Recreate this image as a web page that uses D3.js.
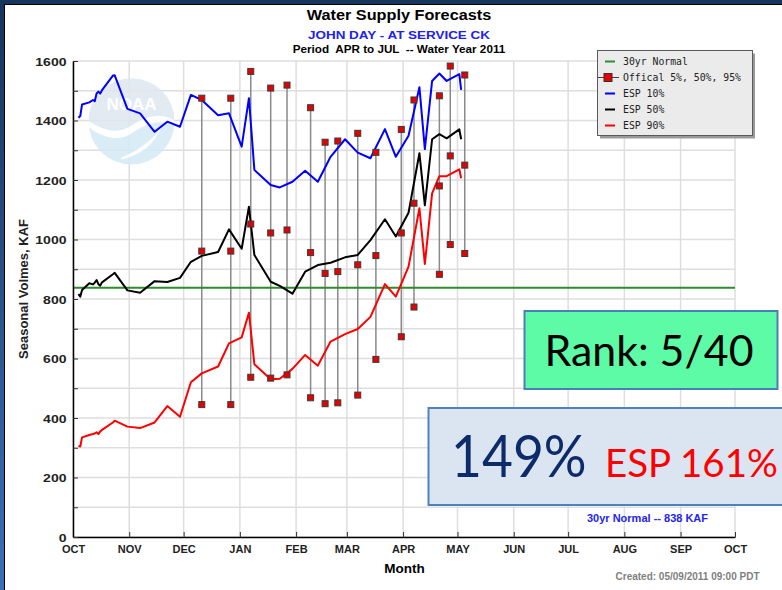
<!DOCTYPE html>
<html><head><meta charset="utf-8">
<script src="https://cdn.jsdelivr.net/npm/d3@7"></script>
<style>html,body{margin:0;padding:0;background:#fff;overflow:hidden}</style>
</head><body>
<svg id="chart" width="782" height="590"></svg>
<script>
// ---- data -------------------------------------------------------------
const espDates = ["2010-10-04","2010-10-05","2010-10-06","2010-10-10","2010-10-12","2010-10-13","2010-10-14","2010-10-15","2010-10-16","2010-10-17",
  "2010-10-23","2010-10-24","2010-10-31","2010-11-07","2010-11-15","2010-11-22","2010-11-29","2010-12-05","2010-12-11","2010-12-20","2010-12-26",
  "2011-01-02","2011-01-06","2011-01-09","2011-01-18","2011-01-23","2011-01-30","2011-02-06","2011-02-13","2011-02-20","2011-02-28",
  "2011-03-07","2011-03-14","2011-03-22","2011-03-28","2011-04-04","2011-04-10","2011-04-13","2011-04-17","2011-04-21","2011-04-25",
  "2011-05-02","2011-05-03"];
const esp10 = [1409,1415,1454,1461,1469,1465,1491,1497,1491,1502,1551,1552,1439,1424,1362,1396,1379,1486,1469,1418,1424,
  1312,1475,1234,1183,1175,1194,1231,1194,1278,1337,1292,1273,1371,1278,1349,1512,1304,1533,1558,1533,1556,1503];
const esp50 = [817,808,830,853,849,855,864,850,845,856,883,888,829,821,860,857,871,925,945,958,1034,
  969,1110,948,858,844,818,892,914,922,940,948,998,1068,1010,1090,1290,1115,1337,1354,1340,1370,1337];
const esp90 = [306,304,335,343,346,348,352,346,355,360,385,391,371,366,385,440,404,520,550,573,651,
  671,754,581,530,532,565,612,576,657,682,699,740,850,808,909,1105,918,1155,1213,1213,1236,1206];

const officialDates = ["2010-12-11","2010-12-27","2011-01-07","2011-01-18","2011-01-27","2011-02-09","2011-02-17","2011-02-24",
  "2011-03-07","2011-03-17","2011-03-31","2011-04-07","2011-04-21","2011-04-27","2011-05-05"];
const official95 = [445,445,537,534,545,468,448,451,477,597,673,773,883,983,953];
const official50 = [961,961,1052,1022,1032,956,886,892,915,946,1022,1122,1180,1281,1250];
const official05 = [1475,1475,1565,1509,1519,1443,1327,1331,1357,1293,1370,1469,1483,1583,1553];

const normal30yr = 838;
const monthLabels = ["OCT","NOV","DEC","JAN","FEB","MAR","APR","MAY","JUN","JUL","AUG","SEP","OCT"];
const yTickValues = d3.range(0, 1601, 100);
const legendLabels = ["30yr Normal","Offical 5%, 50%, 95%","ESP 10%","ESP 50%","ESP 90%"];

// ---- setup ------------------------------------------------------------
const svg = d3.select("#chart");
const parse = d3.utcParse("%Y-%m-%d");
const SANS = "'Liberation Sans', Arial, sans-serif";
const x = d3.scaleUtc().domain([parse("2010-10-01"), parse("2011-10-01")]).range([73, 735]);
const y = d3.scaleLinear().domain([0, 1600]).range([537, 61]);

const COLORS = { normal: "#2e8b2e", esp10: "#0000ff", esp50: "#000000", esp90: "#ff0000", marker: "#e60000" };

// text helper with horizontal stretch
function label(g, px, py, str, o) {
  return g.append("text")
    .attr("transform", `translate(${px},${py}) scale(${o.sx || 1},1)`)
    .attr("text-anchor", o.anchor || "middle")
    .attr("font-family", o.family || SANS)
    .attr("font-weight", o.weight || "bold")
    .attr("font-size", o.size)
    .attr("fill", o.fill || "#000")
    .text(str);
}

svg.append("rect").attr("width", 782).attr("height", 590).attr("fill", "#fff");

// slide frame
const defs = svg.append("defs");
const grad = defs.append("linearGradient").attr("id", "frameGrad").attr("x1", 0).attr("y1", 0).attr("x2", 0).attr("y2", 1);
grad.append("stop").attr("offset", "0").attr("stop-color", "#17345c");
grad.append("stop").attr("offset", "1").attr("stop-color", "#3b70b6");
svg.append("rect").attr("x", 0).attr("y", 0).attr("width", 4).attr("height", 590).attr("fill", "url(#frameGrad)");
svg.append("rect").attr("x", 0).attr("y", 0).attr("width", 782).attr("height", 4).attr("fill", "#17365d");
svg.append("line").attr("x1", 4.5).attr("x2", 4.5).attr("y1", 4).attr("y2", 590).attr("stroke", "#000").attr("stroke-width", 1);
svg.append("line").attr("x1", 4).attr("x2", 782).attr("y1", 4.5).attr("y2", 4.5).attr("stroke", "#000").attr("stroke-width", 1);

// ---- grid -------------------------------------------------------------
const monthTicks = x.ticks(d3.utcMonth.every(1));
const grid = svg.append("g").attr("stroke", "#dedede").attr("stroke-width", 1.5);
grid.selectAll(".gy").data(yTickValues).join("line")
  .attr("x1", x.range()[0]).attr("x2", x.range()[1])
  .attr("y1", d => y(d)).attr("y2", d => y(d));
grid.selectAll(".gx").data(monthTicks).join("line")
  .attr("x1", d => x(d)).attr("x2", d => x(d))
  .attr("y1", y.range()[1]).attr("y2", y.range()[0]);

// ---- faded agency emblem ---------------------------------------------
const logo = svg.append("g").attr("transform", "translate(131.5,121.5)").attr("opacity", 0.85);
defs.append("clipPath").attr("id", "logoClip").append("circle").attr("r", 43);
logo.append("circle").attr("r", 43).attr("fill", "#d4ebf6");
const lc = logo.append("g").attr("clip-path", "url(#logoClip)");
lc.append("path").attr("d", "M-45,-45 H45 V-2 C30,-12 15,-8 0,2 C-15,12 -30,6 -45,-4 Z").attr("fill", "#e0e7ef");
lc.append("path").attr("d", "M-45,-2 C-30,8 -15,14 0,4 C15,-6 30,-10 45,0 L45,6 C30,-4 15,2 0,12 C-15,22 -32,14 -45,4 Z").attr("fill", "#ffffff");
lc.append("path").attr("d", "M-10,36 C5,30 20,20 30,6 C22,24 8,34 -10,38 Z").attr("fill", "#ffffff");
logo.append("text").attr("y", -12).attr("text-anchor", "middle").attr("font-family", SANS)
  .attr("font-weight", "bold").attr("font-size", 17).attr("fill", "#fff").text("NOAA");

// ---- official forecast ranges ----------------------------------------
const official = officialDates.map((d, i) => ({ date: parse(d), lo: official95[i], mid: official50[i], hi: official05[i] }));
svg.append("g").selectAll("line").data(official).join("line")
  .attr("x1", d => x(d.date)).attr("x2", d => x(d.date))
  .attr("y1", d => y(d.hi)).attr("y2", d => y(d.lo))
  .attr("stroke", "#8a8a8a").attr("stroke-width", 1.5);

// 30-year normal
svg.append("line").attr("x1", x.range()[0]).attr("x2", x.range()[1])
  .attr("y1", y(normal30yr)).attr("y2", y(normal30yr))
  .attr("stroke", COLORS.normal).attr("stroke-width", 2);

// ---- ESP traces -------------------------------------------------------
const espSeries = [
  { key: "esp10", values: esp10 },
  { key: "esp50", values: esp50 },
  { key: "esp90", values: esp90 }
];
const line = d3.line().x(d => x(d.date)).y(d => y(d.v));
espSeries.forEach(s => {
  const pts = espDates.map((d, i) => ({ date: parse(d), v: s.values[i] }));
  svg.append("path").datum(pts).attr("d", line)
    .attr("fill", "none").attr("stroke", COLORS[s.key]).attr("stroke-width", 2)
    .attr("stroke-linejoin", "round");
});

// forecast markers
const markerPts = official.flatMap(d => [d.lo, d.mid, d.hi].map(v => ({ date: d.date, v })));
svg.append("g").selectAll("rect").data(markerPts).join("rect")
  .attr("x", d => x(d.date) - 3).attr("y", d => y(d.v) - 3)
  .attr("width", 6).attr("height", 6)
  .attr("fill", COLORS.marker).attr("stroke", "#3a3a3a").attr("stroke-width", 1);

// ---- axes ------------------------------------------------------------
const xAxis = svg.append("g").attr("transform", `translate(0,${y(0)})`)
  .call(d3.axisBottom(x).ticks(d3.utcMonth.every(1)).tickSize(-5).tickSizeOuter(0).tickPadding(8.5)
    .tickFormat((d, i) => monthLabels[i]));
xAxis.select(".domain").attr("stroke", "#000").attr("stroke-width", 1.5);
xAxis.selectAll(".tick line").attr("stroke", "#333");
xAxis.selectAll("text").attr("font-family", SANS).attr("font-weight", "bold").attr("font-size", 11).attr("fill", "#222");

const yAxis = svg.append("g").attr("transform", `translate(${x.range()[0]},0)`)
  .call(d3.axisLeft(y).tickValues(yTickValues).tickSize(-5).tickSizeOuter(0)
    .tickFormat(v => v % 200 === 0 ? v : ""));
yAxis.select(".domain").attr("stroke", "#000").attr("stroke-width", 1.5);
yAxis.selectAll(".tick line").attr("stroke", "#333");
yAxis.selectAll("text").attr("x", null).attr("dy", "0.36em")
  .attr("transform", "translate(-6.5,0) scale(1.22,1)")
  .attr("font-family", SANS).attr("font-weight", "bold").attr("font-size", 11.5).attr("fill", "#222");

// ---- titles ----------------------------------------------------------
label(svg, 399, 20, "Water Supply Forecasts", { size: 14, sx: 1.16 });
label(svg, 399, 39, "JOHN DAY - AT SERVICE CK", { size: 11.5, sx: 1.17, fill: "#2020f0" });
label(svg, 399, 53, "Period  APR to JUL  -- Water Year 2011", { size: 10, sx: 1.17 }).attr("xml:space", "preserve").style("white-space", "pre");
label(svg, 404.5, 573, "Month", { size: 13.5 });
svg.append("text").attr("transform", "translate(28,289) rotate(-90)")
  .attr("text-anchor", "middle").attr("font-family", SANS).attr("font-weight", "bold")
  .attr("font-size", 13).attr("fill", "#222").text("Seasonal Volmes, KAF");
label(svg, 687.5, 580, "Created: 05/09/2011 09:00 PDT", { size: 10, fill: "#7f7f7f" });

// ---- legend ----------------------------------------------------------
const lg = svg.append("g");
lg.append("rect").attr("x", 600).attr("y", 53.5).attr("width", 155).attr("height", 85).attr("fill", "#9a9a9a");
lg.append("rect").attr("x", 597.5).attr("y", 50.5).attr("width", 155).attr("height", 85)
  .attr("fill", "#ebebeb").attr("stroke", "#5a5a5a").attr("stroke-width", 1);
const legendKinds = ["normal", "marker", "esp10", "esp50", "esp90"];
legendLabels.forEach((t, i) => {
  const cy = 61.5 + i * 16;
  const kind = legendKinds[i];
  if (kind === "marker") {
    lg.append("line").attr("x1", 598).attr("x2", 619).attr("y1", cy).attr("y2", cy).attr("stroke", "#444").attr("stroke-width", 1);
    lg.append("rect").attr("x", 604).attr("y", cy - 4).attr("width", 8).attr("height", 8)
      .attr("fill", COLORS.marker).attr("stroke", "#333").attr("stroke-width", 1);
  } else {
    lg.append("line").attr("x1", 605).attr("x2", 615).attr("y1", cy).attr("y2", cy)
      .attr("stroke", COLORS[kind]).attr("stroke-width", 2);
  }
  lg.append("text").attr("x", 623).attr("y", cy + 3.5)
    .attr("font-family", "'DejaVu Sans Mono', monospace").attr("font-size", 9.8).attr("fill", "#222").text(t);
});

// ---- summary callouts ------------------------------------------------
const BIG = "Lato, 'Open Sans', sans-serif";
svg.append("rect").attr("x", 524.5).attr("y", 311).attr("width", 253).attr("height", 78)
  .attr("fill", "#5dfba6").attr("stroke", "#4a7ebb").attr("stroke-width", 2);
label(svg, 649, 366, "Rank: 5/40", { size: 42, family: BIG, weight: "normal", sx: 1.02 });

svg.append("rect").attr("x", 428.5).attr("y", 408).attr("width", 380).attr("height", 97)
  .attr("fill", "#dbe5f1").attr("stroke", "#4f81bd").attr("stroke-width", 2);
label(svg, 451, 477, "149%", { size: 58, family: BIG, weight: "normal", anchor: "start", fill: "#0d2a6b", sx: 0.92 });
label(svg, 605, 477, "ESP 161%", { size: 38.5, family: BIG, weight: "normal", anchor: "start", fill: "#ff0000", sx: 1.0 });

label(svg, 647.5, 522, "30yr Normal -- 838 KAF", { size: 11, fill: "#2424ee" });
</script>
</body></html>
